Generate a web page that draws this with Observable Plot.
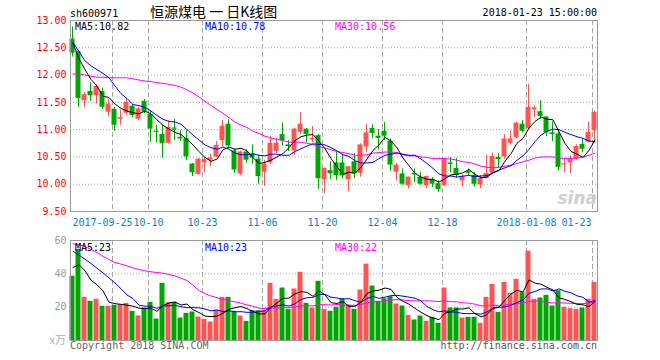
<!DOCTYPE html>
<html>
<head>
<meta charset="utf-8">
<script src="https://cdn.jsdelivr.net/npm/d3@7"></script>
<script src="https://cdn.jsdelivr.net/npm/@observablehq/plot@0.6"></script>
<style>
html, body { margin: 0; padding: 0; background: #fff; }
#wrap { position: relative; width: 660px; height: 360px; overflow: hidden; background: #fff; }
#price, #vol { position: absolute; left: 0; }
#price { top: 0; }
#vol { top: 232px; }
#over { position: absolute; left: 0; top: 0; pointer-events: none; }
</style>
</head>
<body>
<div id="wrap"><div id="price"></div><div id="vol"></div></div>
<script>
// ---- data (index 0 = 2017-09-14 ... 87 = 2018-01-23) ----
const open = [12.66,12.43,11.53,11.70,11.62,11.70,11.32,11.37,11.19,11.30,
11.43,11.19,11.52,11.28,10.97,10.91,10.75,11.03,10.86,10.84,
10.37,10.18,10.39,10.44,10.50,10.80,11.10,10.61,10.19,10.59,
10.55,10.46,10.22,10.39,10.60,10.91,10.72,10.61,10.95,11.01,
10.81,10.89,10.08,10.25,10.39,10.39,10.08,10.41,10.20,10.68,
11.02,10.88,10.97,10.79,10.22,10.19,9.97,10.20,10.13,9.97,
10.08,10.01,9.97,10.39,10.29,10.06,10.23,10.16,9.99,10.11,
10.20,10.49,10.50,10.75,10.85,11.10,11.02,11.36,11.33,11.23,
10.94,10.92,10.36,10.39,10.46,10.73,10.77,10.98];
const high = [12.88,12.45,11.68,11.86,11.82,11.76,11.55,11.41,11.36,11.56,
11.46,11.41,11.55,11.33,11.08,11.08,11.16,11.19,10.98,10.98,
10.38,10.47,10.49,10.55,10.78,11.17,11.18,10.64,10.61,10.63,
10.72,10.52,10.44,10.88,10.84,11.12,10.80,11.02,11.31,11.02,
11.06,10.91,10.30,10.41,10.58,10.55,10.33,10.56,10.74,11.10,
11.09,11.00,11.13,10.83,10.38,10.28,10.13,10.28,10.22,10.15,
10.12,10.06,10.46,10.49,10.47,10.17,10.28,10.22,10.16,10.53,
10.57,10.56,10.91,10.98,11.14,11.17,11.83,11.43,11.53,11.24,
11.14,11.00,10.47,10.52,10.72,10.83,11.14,11.34];
const low = [12.33,11.40,11.40,11.52,11.47,11.37,11.23,10.97,11.08,11.26,
11.22,11.16,11.29,10.77,10.76,10.48,10.74,10.80,10.78,10.43,
10.14,10.17,10.21,10.32,10.49,10.68,10.68,10.20,10.16,10.38,
10.36,10.00,9.96,10.36,10.56,10.70,10.60,10.53,10.91,10.76,
10.76,9.90,9.82,10.08,10.07,10.10,9.86,10.10,10.13,10.58,
10.83,10.63,10.80,10.23,10.06,9.98,9.91,10.03,9.98,9.92,
9.94,9.85,9.96,10.21,10.11,9.95,10.15,9.95,9.92,10.10,
10.19,10.30,10.46,10.72,10.83,10.94,11.00,11.22,11.19,10.87,
10.78,10.24,10.21,10.19,10.44,10.58,10.76,10.75];
const close = [12.40,11.57,11.64,11.62,11.79,11.41,11.47,11.08,11.22,11.50,
11.26,11.38,11.32,11.01,10.95,10.74,11.04,11.01,10.83,10.50,
10.21,10.46,10.45,10.48,10.71,11.06,10.70,10.26,10.59,10.44,
10.48,10.14,10.37,10.75,10.75,10.80,10.69,11.01,11.10,10.91,
10.84,10.10,10.29,10.19,10.16,10.15,10.32,10.19,10.72,10.94,
10.93,10.84,10.88,10.35,10.35,10.00,10.13,10.17,10.00,10.14,
10.00,9.90,10.45,10.38,10.16,10.14,10.21,10.00,10.11,10.20,
10.51,10.45,10.83,10.83,11.12,10.97,11.41,11.40,11.24,10.94,
10.91,10.31,10.37,10.45,10.69,10.64,10.95,11.32];
const volume = [38.6,54.6,25.9,23.5,24.7,20.5,20.5,21.1,21.5,22.3,
17.5,14.7,19.5,22.9,12.9,34.3,22.7,22.9,13.5,16.3,
17.1,14.1,12.7,11.1,18.1,25.9,25.9,17.5,14.7,11.5,
17.9,17.9,17.9,34.3,24.7,31.5,18.7,30.9,40.9,22.3,
19.5,35.5,18.7,17.5,19.9,25.1,21.1,18.7,30.3,45.8,
32.7,23.5,25.1,26.3,21.9,20.7,15.1,12.3,14.7,11.5,
13.9,10.3,31.5,19.5,19.5,13.5,13.9,13.9,10.3,25.9,
33.7,16.9,34.9,28.3,36.7,28.7,53.6,24.7,25.5,27.1,
20.7,29.9,19.9,19.1,18.7,19.5,24.7,34.9];
const ma5 = [12.58,12.30,12.10,11.92,11.80,11.61,11.59,11.47,11.39,11.34,
11.31,11.29,11.34,11.29,11.18,11.08,11.01,10.95,10.91,10.82,
10.72,10.60,10.49,10.42,10.46,10.63,10.68,10.64,10.66,10.61,
10.49,10.38,10.40,10.44,10.50,10.56,10.67,10.80,10.87,10.90,
10.91,10.79,10.65,10.47,10.32,10.18,10.22,10.20,10.31,10.46,
10.62,10.72,10.86,10.79,10.67,10.48,10.34,10.20,10.13,10.09,
10.09,10.04,10.10,10.17,10.18,10.21,10.27,10.18,10.12,10.13,
10.21,10.25,10.42,10.56,10.75,10.84,11.03,11.15,11.23,11.19,
11.18,10.96,10.75,10.60,10.55,10.49,10.62,10.81];
const ma10 = [12.60,12.43,12.26,12.17,12.10,12.03,11.95,11.80,11.66,11.57,
11.46,11.44,11.41,11.34,11.26,11.19,11.15,11.14,11.10,11.00,
10.90,10.81,10.72,10.67,10.64,10.68,10.64,10.57,10.54,10.54,
10.56,10.53,10.52,10.55,10.55,10.53,10.53,10.60,10.65,10.70,
10.74,10.73,10.72,10.67,10.61,10.54,10.51,10.43,10.39,10.39,
10.40,10.47,10.53,10.55,10.57,10.55,10.53,10.53,10.46,10.38,
10.29,10.19,10.15,10.15,10.13,10.15,10.16,10.14,10.15,10.16,
10.21,10.26,10.30,10.34,10.44,10.52,10.64,10.78,10.90,10.97,
11.01,11.00,10.95,10.91,10.87,10.84,10.79,10.78];
const ma30 = [12.02,12.02,12.00,11.98,11.96,11.96,11.95,11.95,11.95,11.95,
11.93,11.91,11.89,11.88,11.86,11.85,11.83,11.81,11.78,11.73,
11.67,11.60,11.52,11.44,11.37,11.30,11.22,11.14,11.08,11.04,
10.97,10.93,10.88,10.85,10.82,10.80,10.77,10.77,10.77,10.75,
10.73,10.69,10.66,10.63,10.60,10.58,10.56,10.53,10.53,10.54,
10.57,10.58,10.59,10.59,10.58,10.54,10.52,10.52,10.50,10.49,
10.47,10.47,10.47,10.46,10.44,10.41,10.40,10.37,10.33,10.31,
10.30,10.31,10.33,10.35,10.38,10.41,10.44,10.48,10.50,10.50,
10.50,10.48,10.47,10.47,10.48,10.50,10.53,10.57];
const vma5 = [43.8,45.4,42.0,36.1,33.5,29.8,23.0,22.1,21.7,21.2,
20.6,19.4,19.1,19.4,17.5,20.9,22.5,23.1,21.3,21.9,
18.5,16.8,14.7,14.3,14.6,16.4,18.7,19.7,20.4,19.1,
17.5,15.9,16.0,19.9,22.5,25.3,25.4,28.0,29.3,28.9,
26.5,29.8,27.4,22.7,22.2,23.3,20.5,20.5,23.0,28.2,
29.7,30.2,31.5,30.7,25.9,23.5,21.8,19.3,16.9,14.9,
13.5,12.5,16.4,17.3,18.9,18.9,19.6,16.1,14.2,15.5,
19.5,20.1,24.3,27.9,30.1,29.1,36.4,34.4,33.8,31.9,
30.3,25.6,24.6,23.3,21.7,21.4,20.4,23.4];
const vma10 = [53.6,51.2,48.8,46.2,43.4,40.6,37.6,34.5,31.0,27.3,
25.2,21.2,20.6,20.5,19.3,20.7,20.9,21.1,20.3,19.7,
19.7,19.6,18.9,17.8,18.3,17.4,17.8,17.2,17.3,16.9,
16.9,17.3,17.8,20.2,20.8,21.4,20.7,22.0,24.6,25.7,
25.9,27.6,27.7,26.0,25.5,24.9,25.1,23.9,22.9,25.2,
26.5,25.3,26.0,26.9,27.1,26.6,26.0,25.4,23.8,20.4,
18.5,17.2,17.8,17.1,16.9,16.2,16.1,16.2,15.8,17.2,
19.2,19.9,20.2,21.1,22.8,24.3,28.3,29.4,30.9,31.0,
29.7,31.0,29.5,28.6,26.8,25.9,23.0,24.0];
const vma30 = [58.0,57.6,56.3,54.7,52.8,50.6,48.5,46.8,45.8,44.8,
43.6,42.6,41.8,41.2,40.8,40.4,39.6,38.8,37.4,36.0,
33.1,29.9,28.1,26.7,25.7,24.6,23.9,23.2,22.4,21.3,
20.6,19.4,19.1,19.5,19.5,19.9,19.8,20.1,20.8,20.8,
20.8,21.5,21.5,21.3,21.6,21.2,21.2,21.1,21.6,22.6,
23.1,23.4,23.8,24.3,24.5,24.3,23.9,23.8,23.8,23.8,
23.6,23.4,23.8,23.3,23.2,22.6,22.4,21.8,20.8,20.9,
21.4,20.8,21.3,21.7,22.3,22.4,23.5,23.7,23.5,22.9,
22.5,22.7,22.5,22.3,22.2,22.1,22.4,23.2];
const tickIndex = [7, 13, 22, 32, 42, 52, 62, 76, 87];
const tickLabel = ["2017-09-25", "10-10", "10-23", "11-06", "11-20", "12-04", "12-18", "2018-01-08", "01-23"];
const priceTicks = [9.5, 10, 10.5, 11, 11.5, 12, 12.5, 13];
const volTicks = [20, 40, 60];
const priceLegend = ["MA5:10.82", "MA10:10.78", "MA30:10.56"];
const volLegend = ["MA5:23", "MA10:23", "MA30:22"];

// ---- styling ----
const MONO = "'DejaVu Sans Mono', 'Liberation Mono', monospace";
const UP = "#ff5454", DOWN = "#00a600";
const MA_COLORS = ["#000000", "#0000ff", "#ff00ff"];
const GRID = "#a6a6a6";
const DATE_BLUE = "#0a82d2";

const rows = close.map((c, i) => ({i, o: open[i], h: high[i], l: low[i], c, v: volume[i]}));
const colorOf = d => (d.c >= d.o ? UP : DOWN);
const series = arr => arr.map((v, i) => ({i, v}));
const mid = d => d.i + 5 / 12;
const labelOf = new Map(tickIndex.map((k, j) => [k, tickLabel[j]]));
const N = close.length;

const common = {
  width: 660,
  marginLeft: 70,
  marginRight: 63,
  x: {domain: [0, N], range: [70, 70 + 6 * N], axis: null},
  style: {fontFamily: MONO, fontSize: "10px", background: "transparent", overflow: "visible"}
};

const dateText = {frameAnchor: "bottom", lineAnchor: "top", dy: 7, fill: DATE_BLUE};

const priceChart = Plot.plot({
  ...common,
  height: 232,
  marginTop: 20,
  marginBottom: 21,
  y: {domain: [9.5, 13], label: null},
  marks: [
    Plot.ruleY(priceTicks.filter(t => t > 9.5 && t < 13), {stroke: GRID, strokeDasharray: "1,2"}),
    Plot.ruleX(tickIndex, {stroke: GRID, strokeDasharray: "5,3"}),
    Plot.ruleX(rows, {x: mid, y1: "l", y2: "h", stroke: colorOf, dx: -0.5}),
    Plot.rect(rows, {x1: "i", x2: d => d.i + 1, y1: "o", y2: "c", fill: colorOf, insetRight: 1, dx: -0.5}),
    Plot.ruleY(rows.filter(d => Math.abs(d.c - d.o) < 0.02), {x1: "i", x2: d => d.i + 5 / 6, y: "c", stroke: colorOf, dx: -0.5}),
    Plot.line(series(ma30), {x: mid, y: "v", stroke: MA_COLORS[2], strokeWidth: 1}),
    Plot.line(series(ma10), {x: mid, y: "v", stroke: MA_COLORS[1], strokeWidth: 1}),
    Plot.line(series(ma5), {x: mid, y: "v", stroke: MA_COLORS[0], strokeWidth: 1}),
    Plot.frame({stroke: "#9a9a9a"}),
    Plot.axisY(priceTicks, {tickSize: 0, tickPadding: 4, tickFormat: d => d.toFixed(2), color: "#ff0000", label: null}),
    // first date label nudged left so it clears "10-10"
    Plot.text(tickIndex.slice(0, 1), {...dateText, x: d => d, text: d => labelOf.get(d), textAnchor: "middle", dx: -10}),
    Plot.text(tickIndex.slice(1, -1), {...dateText, x: d => d, text: d => labelOf.get(d), textAnchor: "middle"}),
    // last date label kept inside the frame
    Plot.text(tickIndex.slice(-1), {...dateText, x: d => d, text: d => labelOf.get(d), textAnchor: "end", dx: -1})
  ]
});

const volChart = Plot.plot({
  ...common,
  height: 128,
  marginTop: 8,
  marginBottom: 20,
  y: {domain: [0, 60], label: null},
  marks: [
    Plot.ruleY(volTicks.filter(t => t < 60), {stroke: GRID, strokeDasharray: "1,2"}),
    Plot.ruleX(tickIndex, {stroke: GRID, strokeDasharray: "5,3"}),
    Plot.rect(rows, {x1: "i", x2: d => d.i + 1, y1: 0, y2: "v", fill: colorOf, insetRight: 1, dx: -0.5}),
    Plot.line(series(vma30), {x: mid, y: "v", stroke: MA_COLORS[2], strokeWidth: 1}),
    Plot.line(series(vma10), {x: mid, y: "v", stroke: MA_COLORS[1], strokeWidth: 1}),
    Plot.line(series(vma5), {x: mid, y: "v", stroke: MA_COLORS[0], strokeWidth: 1}),
    Plot.frame({stroke: "#9a9a9a"}),
    Plot.axisY(volTicks, {tickSize: 0, tickPadding: 4, color: "#9a9a9a", label: null})
  ]
});

document.getElementById("price").appendChild(priceChart);
document.getElementById("vol").appendChild(volChart);

// ---- header / legend / footer texts ----
const over = d3.select("#wrap").append("svg")
  .attr("id", "over").attr("width", 660).attr("height", 360)
  .style("font-family", MONO).style("font-size", "10px");

const texts = [
  {t: "sh600971", x: 70, y: 17, fill: "#000"},
  {t: "恒源煤电 一 日K线图", x: 150, y: 17, fill: "#000", size: "14px", family: "'Noto Sans CJK SC', sans-serif"},
  {t: "2018-01-23 15:00:00", x: 597, y: 16, fill: "#000", anchor: "end"},
  {t: priceLegend[0], x: 75, y: 30, fill: MA_COLORS[0]},
  {t: priceLegend[1], x: 205, y: 30, fill: MA_COLORS[1]},
  {t: priceLegend[2], x: 335, y: 30, fill: MA_COLORS[2]},
  {t: volLegend[0], x: 75, y: 251, fill: MA_COLORS[0]},
  {t: volLegend[1], x: 205, y: 251, fill: MA_COLORS[1]},
  {t: volLegend[2], x: 335, y: 251, fill: MA_COLORS[2]},
  {t: "x万", x: 66, y: 344, fill: "#b0b0b0", anchor: "end", size: "11px", family: "'Noto Sans CJK SC', sans-serif"},
  {t: "Copyright 2018 SINA.COM", x: 70, y: 349, fill: "#666"},
  {t: "http://finance.sina.com.cn", x: 597, y: 349, fill: "#555", anchor: "end"},
  {t: "sina", x: 597, y: 204, fill: "#cfcfcf", anchor: "end", size: "17px", family: "'DejaVu Sans', sans-serif", weight: "bold", italic: true}
];
over.selectAll("text").data(texts).join("text")
  .attr("x", d => d.x).attr("y", d => d.y)
  .attr("text-anchor", d => d.anchor || "start")
  .attr("fill", d => d.fill)
  .style("font-size", d => d.size || null)
  .style("font-family", d => d.family || null)
  .style("font-weight", d => d.weight || null)
  .style("font-style", d => d.italic ? "italic" : null)
  .text(d => d.t);
</script>
</body>
</html>
